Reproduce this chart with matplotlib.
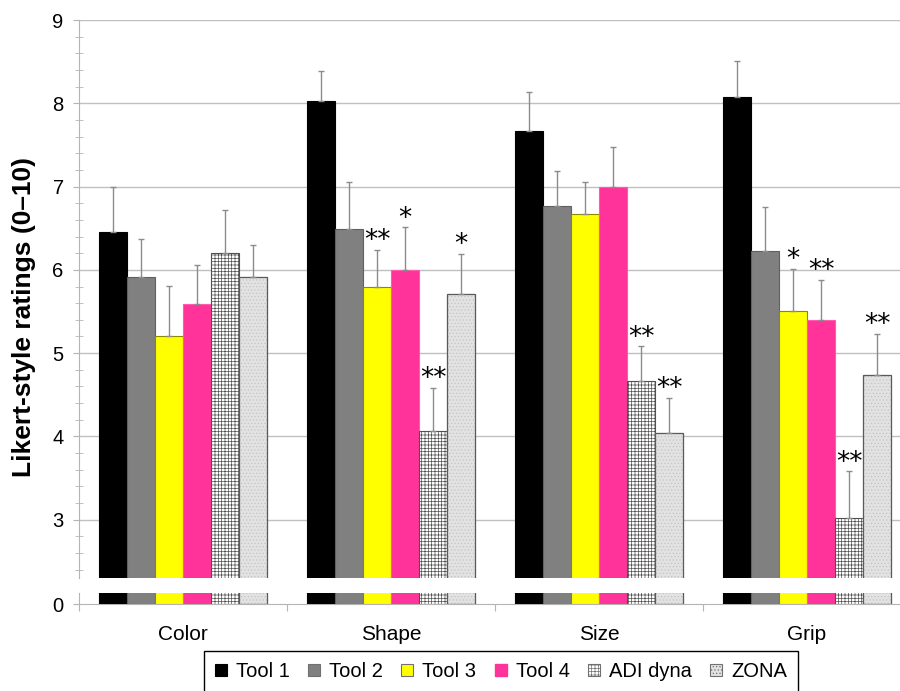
import numpy as np
import matplotlib
matplotlib.use('Agg')
from matplotlib import pyplot as plt
from matplotlib.patches import Patch
from matplotlib.ticker import MultipleLocator

plt.rcParams['font.family'] = ['Liberation Sans', 'DejaVu Sans']
plt.rcParams['hatch.linewidth'] = 0.5

categories = ['Color', 'Shape', 'Size', 'Grip']
tools = ['Tool 1', 'Tool 2', 'Tool 3', 'Tool 4', 'ADI dyna', 'ZONA']

# mean ratings, one list per tool (Color, Shape, Size, Grip)
tool1 = [6.45, 8.03, 7.67, 8.07]
tool2 = [5.91, 6.49, 6.77, 6.23]
tool3 = [5.21, 5.79, 6.67, 5.50]
tool4 = [5.59, 6.00, 7.00, 5.40]
adi_dyna = [6.20, 4.06, 4.67, 3.02]
zona = [5.92, 5.71, 4.04, 4.74]

# upper error bars
err1 = [0.55, 0.36, 0.47, 0.44]
err2 = [0.46, 0.56, 0.42, 0.53]
err3 = [0.60, 0.45, 0.39, 0.51]
err4 = [0.47, 0.51, 0.47, 0.48]
err_adi = [0.52, 0.52, 0.41, 0.56]
err_zona = [0.38, 0.48, 0.42, 0.49]

# significance marks
sig1 = ['', '', '', '']
sig2 = ['', '', '', '']
sig3 = ['', '**', '', '*']
sig4 = ['', '*', '', '**']
sig_adi = ['', '**', '**', '**']
sig_zona = ['', '*', '**', '**']

means = [tool1, tool2, tool3, tool4, adi_dyna, zona]
errs = [err1, err2, err3, err4, err_adi, err_zona]
sigs = [sig1, sig2, sig3, sig4, sig_adi, sig_zona]

styles = [
    dict(color='#000000', edgecolor='#000000'),
    dict(color='#808080', edgecolor='#606060'),
    dict(color='#ffff00', edgecolor='#8a8a00'),
    dict(color='#ff3399', edgecolor='#ff5aad'),
    dict(color='#ffffff', edgecolor='#505050', hatch='+++++'),
    dict(color='#e2e2e2', edgecolor='#c4c4c4', hatch='.....'),
]

fig = plt.figure(figsize=(9, 6.91), dpi=100)
W, H = 900.0, 691.0
left = 79 / W
width = (911 - 79) / W
ax = fig.add_axes([left, 1 - 578 / H, width, (578 - 20) / H])
axb = fig.add_axes([left, 1 - 604 / H, width, (604 - 593) / H])

x = np.arange(len(categories))
bw = 0.135
offsets = (np.arange(len(tools)) - 2.5) * bw

for a in (ax, axb):
    for i, name in enumerate(tools):
        st = styles[i]
        a.bar(x + offsets[i], means[i], bw, color=st['color'], edgecolor=st['edgecolor'],
              hatch=st.get('hatch'), linewidth=0.8, zorder=3, label=name)
        if i == 5:
            a.bar(x + offsets[i], means[i], bw, fill=False, edgecolor='#5a5a5a',
                  linewidth=0.9, zorder=3)
    a.set_xlim(-0.5, 3.5)
    for s in ('top', 'right'):
        a.spines[s].set_visible(False)
    a.spines['left'].set_color('#b4b4b4')

for i in range(len(tools)):
    ax.errorbar(x + offsets[i], means[i], yerr=[np.zeros(4), errs[i]], fmt='none',
                ecolor='#8c8c8c', elinewidth=1, capsize=2.5, capthick=1, zorder=4)
    for j in range(len(categories)):
        if sigs[i][j]:
            ax.annotate(sigs[i][j], (x[j] + offsets[i], means[i][j] + errs[i][j]),
                        xytext=(0, -3), textcoords='offset points', ha='center',
                        va='bottom', fontsize=19, family='DejaVu Sans', zorder=5)

ax.set_ylim(2.3, 9)
ax.set_yticks(range(3, 10))
ax.yaxis.set_minor_locator(MultipleLocator(0.2))
ax.grid(axis='y', which='major', color='#c0c0c0', linewidth=1, zorder=0)
ax.spines['bottom'].set_visible(False)
ax.set_xticks([])
ax.tick_params(axis='y', which='major', labelsize=14.5, length=4, direction='out',
               color='#b4b4b4', pad=7)
ax.tick_params(axis='y', which='minor', length=6, direction='inout', color='#b4b4b4')

axb.set_ylim(0, 11 / 83.3)
axb.set_yticks([0])
axb.tick_params(axis='y', labelsize=14.5, length=4, direction='out', color='#b4b4b4', pad=7)
axb.spines['bottom'].set_color('#b4b4b4')
axb.set_xticks([-0.5, 0.5, 1.5, 2.5, 3.5])
axb.set_xticklabels([])
axb.tick_params(axis='x', which='major', length=5, direction='out', color='#b4b4b4')
axb.set_xticks(x, categories, minor=True)
axb.tick_params(axis='x', which='minor', length=0, labelsize=15, pad=15)

fig.text(24 / W, 1 - 317 / H, 'Likert-style ratings (0\u201310)', rotation=90,
         ha='center', va='center', fontsize=19, fontweight='bold')

handles = [Patch(facecolor=styles[i]['color'], edgecolor='#707070' if i else '#000000',
                 hatch=styles[i].get('hatch'), linewidth=0.8, label=tools[i])
           for i in range(len(tools))]
handles[3] = Patch(facecolor='#ff3399', edgecolor='#ff3399', label=tools[3])
leg = fig.legend(handles=handles, ncol=6, loc='upper center',
                 bbox_to_anchor=(501 / W, 1 - 651 / H), fontsize=14.5, frameon=True,
                 fancybox=False, edgecolor='#000000', framealpha=1,
                 handlelength=0.6, handleheight=0.6, handletextpad=0.45,
                 columnspacing=0.9, borderpad=0.55, borderaxespad=0)
leg.get_frame().set_linewidth(1)

fig.savefig('out.png', dpi=100)
